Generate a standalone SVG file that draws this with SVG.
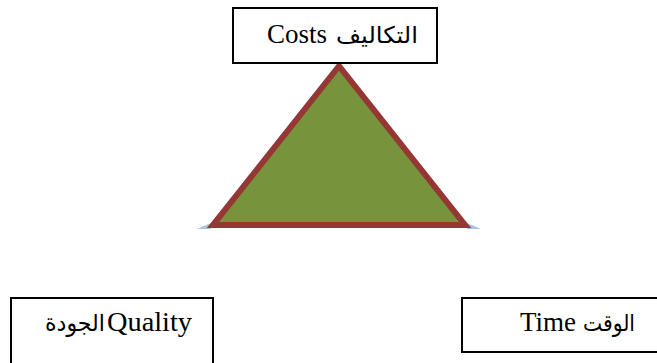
<svg xmlns="http://www.w3.org/2000/svg" width="657" height="363" viewBox="0 0 657 363">
<style>
.box{fill:#ffffff;stroke:#000000;stroke-width:2}
.lbl{font-family:"Liberation Serif","Times New Roman",serif;font-size:27px;fill:#000000}
.ar{font-family:"DejaVu Sans","Noto Sans",sans-serif;font-size:23px}
</style>
<rect width="657" height="363" fill="#ffffff"/>
<g id="connectors">
<polygon points="197,229 211,223 211,229" fill="#95B3D7" opacity="0.8"/>
<polygon points="481,229 467,223 467,229" fill="#95B3D7" opacity="0.8"/>
</g>
<g id="triangle">
<polygon points="339,66 213,225 465,225" fill="#77933C" stroke="#953735" stroke-width="6" stroke-linejoin="miter" stroke-miterlimit="10"/>
</g>
<g id="costs">
<rect class="box" x="233" y="8" width="204" height="55"/>
<text class="lbl" y="43"><tspan x="267">Costs</tspan><tspan class="ar" x="336" textLength="82" lengthAdjust="spacingAndGlyphs">التكاليف</tspan></text>
</g>
<g id="quality">
<rect class="box" x="11" y="298" width="202" height="70"/>
<text class="lbl" y="331"><tspan class="ar" x="45" textLength="60" lengthAdjust="spacingAndGlyphs">الجودة</tspan><tspan x="107" textLength="85" lengthAdjust="spacingAndGlyphs">Quality</tspan></text>
</g>
<g id="time">
<rect class="box" x="462" y="298" width="200" height="54"/>
<text class="lbl" y="331"><tspan x="520">Time</tspan><tspan class="ar" x="583" textLength="52" lengthAdjust="spacingAndGlyphs">الوقت</tspan></text>
</g>
</svg>
